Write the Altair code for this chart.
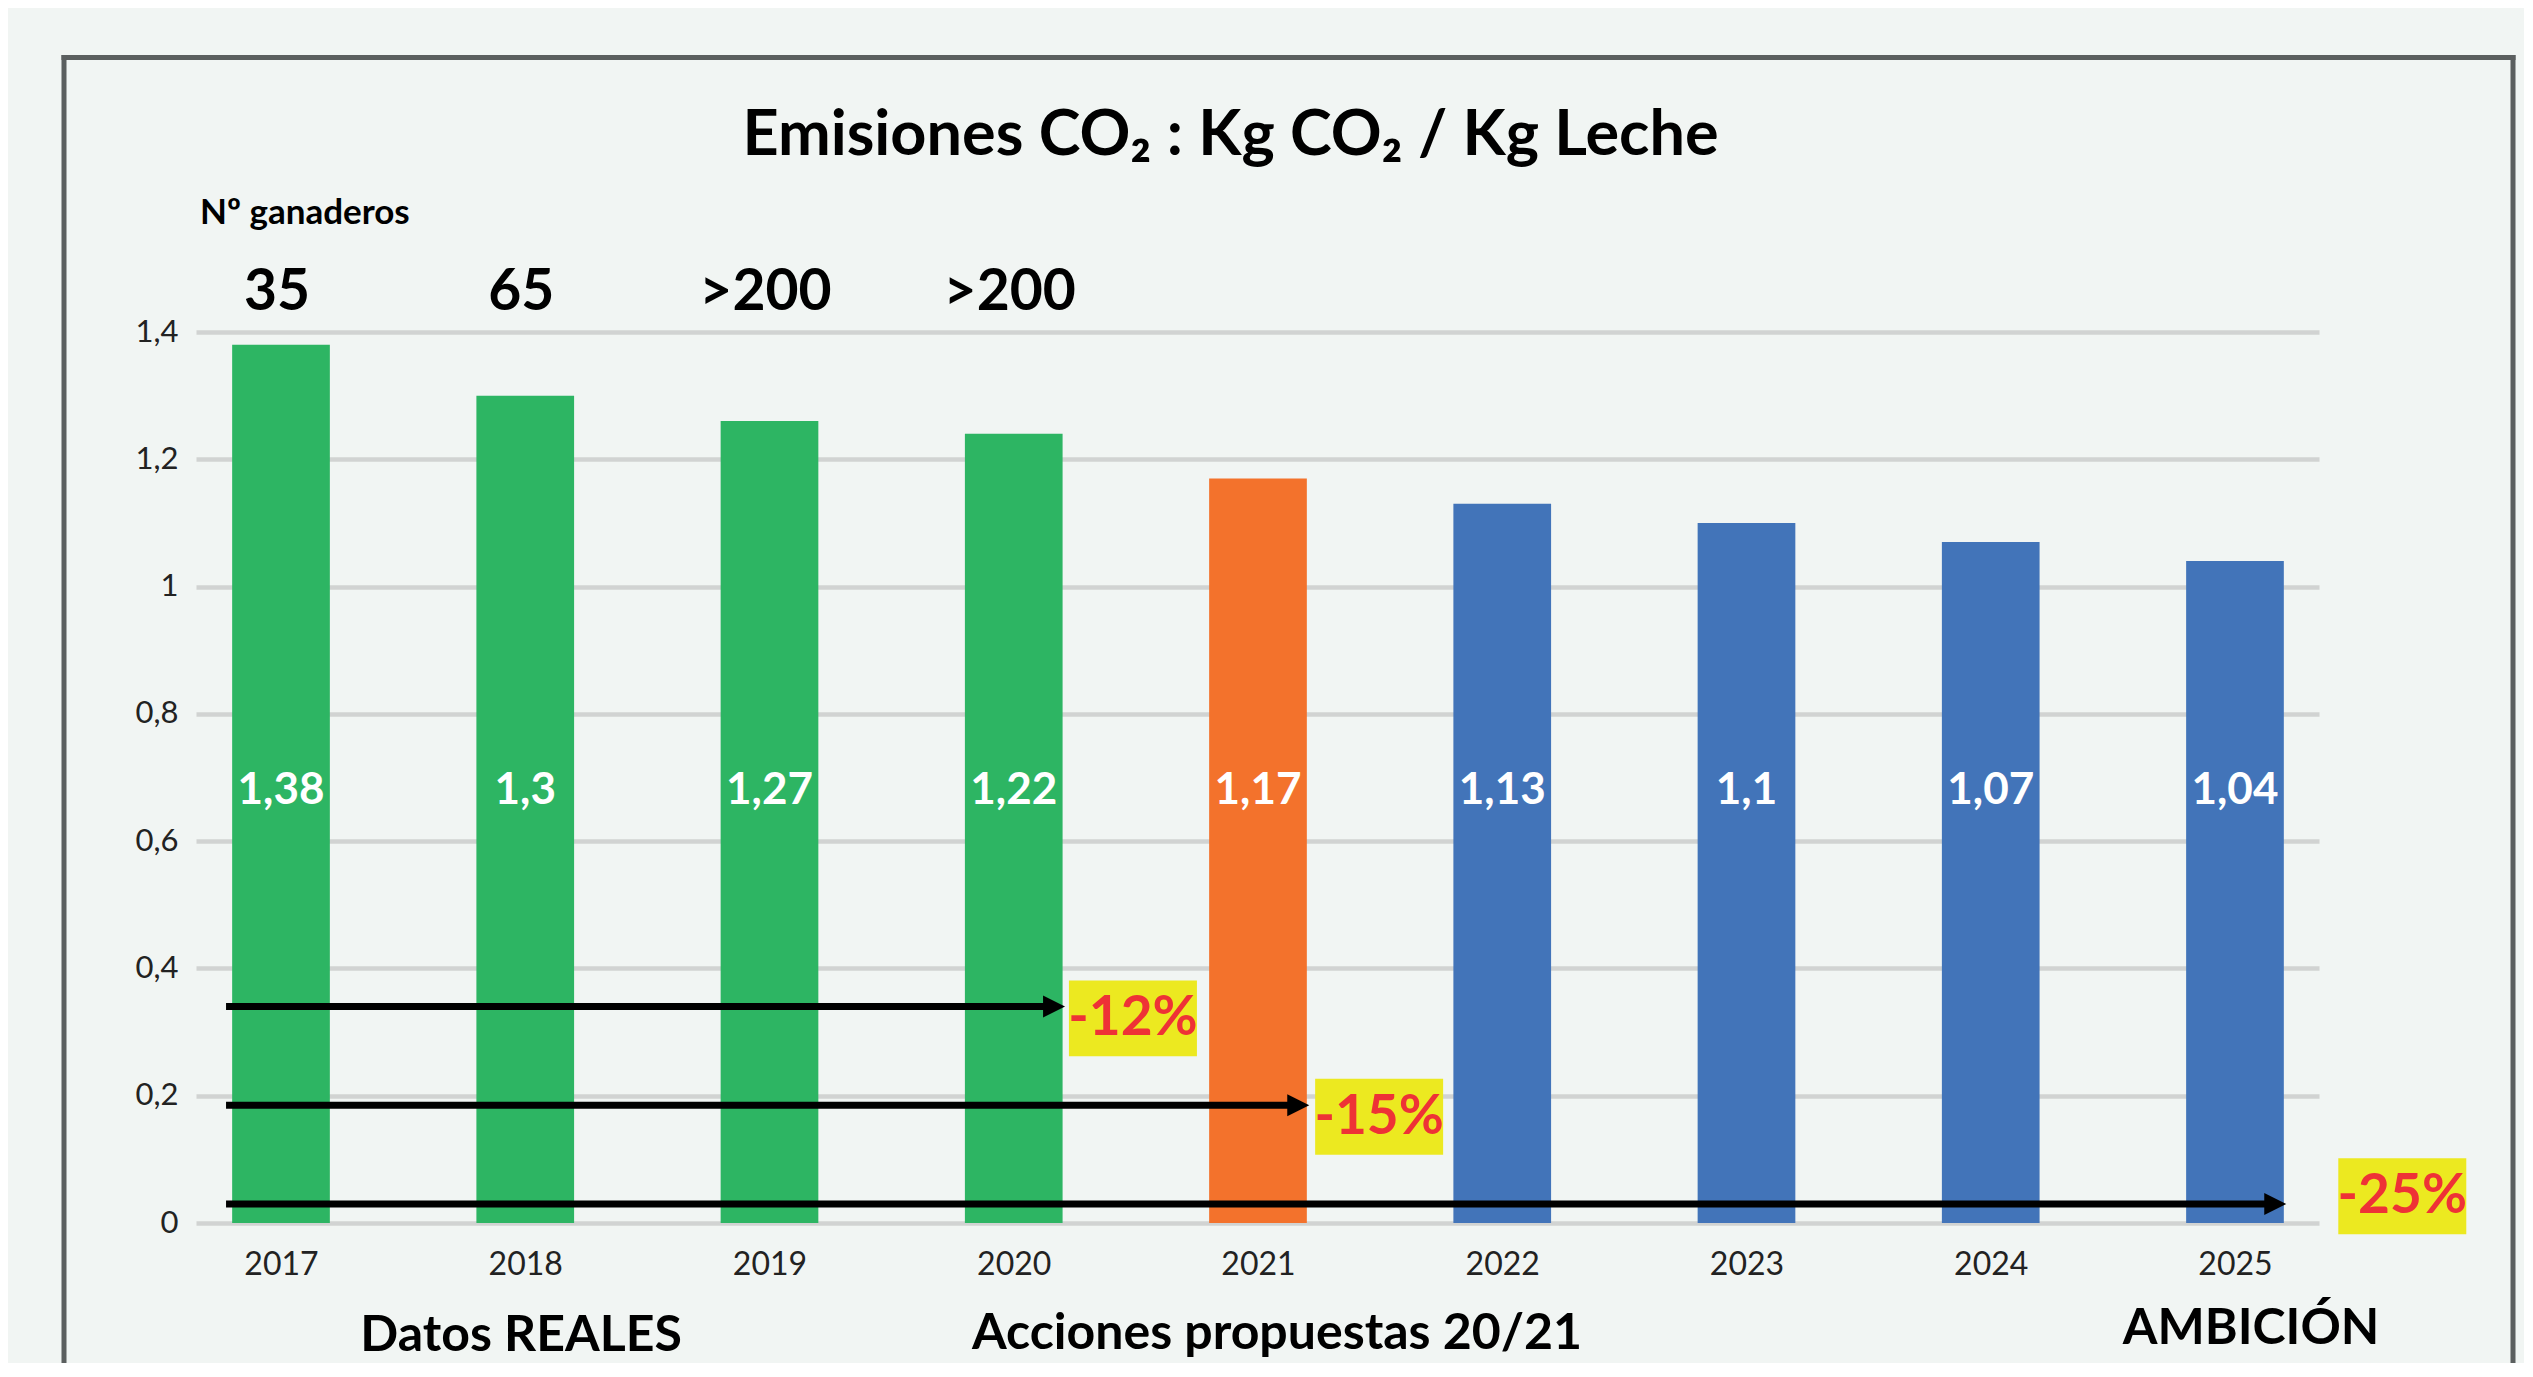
import json
import altair as alt
import pandas as pd

# ---------------- data ----------------
YEARS = ["2017", "2018", "2019", "2020", "2021", "2022", "2023", "2024", "2025"]
EMISSIONS = [1.38, 1.30, 1.26, 1.24, 1.17, 1.13, 1.10, 1.07, 1.04]
VALUE_LABELS = ["1,38", "1,3", "1,27", "1,22", "1,17", "1,13", "1,1", "1,07", "1,04"]
PHASES = ["real", "real", "real", "real", "propuesta",
          "ambicion", "ambicion", "ambicion", "ambicion"]

GANADEROS_YEARS = ["2017", "2018", "2019", "2020"]
GANADEROS = ["35", "65", ">200", ">200"]

REDUCTION_LABELS = ["-12%", "-15%", "-25%"]
REDUCTION_FROM = "2017"
REDUCTION_TO = ["2020", "2021", "2025"]

GROUP_LABELS = ["Datos REALES", "Acciones propuestas 20/21", "AMBICIÓN"]

TITLE = "Emisiones CO₂ : Kg CO₂ / Kg Leche"
HEADER = "Nº ganaderos"
Y_TICKS = [0, 0.2, 0.4, 0.6, 0.8, 1.0, 1.2, 1.4]

# ---------------- layout / style ----------------
W, H = 2123, 891
PAD = {"left": 188, "top": 324, "right": 205, "bottom": 140}
X_DOMAIN = [-0.348, 8.344]
Y_DOMAIN = [0, 1.4]
BAR_HALF = 0.2
VALUE_LABEL_Y = 0.659
COUNT_LABEL_Y = 1.435
HEADER_POS = (-0.332, 1.570)
ARROW_Y = [0.34, 0.185, 0.03]
ARROW_START_PAD = 0.225
ARROW_END_PAD = 0.21
BOX_X = [3.488, 4.496, 8.685]
BOX_Y = [0.3216, 0.167, 0.042]
BOX_HW, BOX_HH = 0.262, 0.0596
GROUP_X = [0.983, 4.078, 8.066]
GROUP_Y = [-0.2008, -0.1976, -0.190]

GREEN, ORANGE, BLUE = "#2db563", "#f3722c", "#4274b9"
YELLOW, RED = "#ece920", "#ee3236"
BG, GRID, FRAME = "#f1f5f3", "#d1d3d2", "#5b5f5f"
FONT = "Lato"

idx = {y: i for i, y in enumerate(YEARS)}

bars = pd.DataFrame({
    "year": YEARS,
    "value": EMISSIONS,
    "label": VALUE_LABELS,
    "phase": PHASES,
})
bars["i"] = [idx[y] for y in YEARS]
bars["x0"] = bars["i"] - BAR_HALF
bars["x1"] = bars["i"] + BAR_HALF
bars["base"] = 0.0
bars["label_y"] = VALUE_LABEL_Y

counts = pd.DataFrame({"year": GANADEROS_YEARS, "label": GANADEROS})
counts["i"] = [idx[y] for y in GANADEROS_YEARS]
counts["y"] = COUNT_LABEL_Y

header = pd.DataFrame({"label": [HEADER], "x": [HEADER_POS[0]], "y": [HEADER_POS[1]]})

arrows = pd.DataFrame({"label": REDUCTION_LABELS, "to": REDUCTION_TO, "y": ARROW_Y})
arrows["x0"] = idx[REDUCTION_FROM] - ARROW_START_PAD
arrows["x1"] = [idx[t] + ARROW_END_PAD for t in REDUCTION_TO]
arrows["bx"] = BOX_X
arrows["by"] = BOX_Y
arrows["bx0"] = arrows["bx"] - BOX_HW
arrows["bx1"] = arrows["bx"] + BOX_HW
arrows["by0"] = arrows["by"] - BOX_HH
arrows["by1"] = arrows["by"] + BOX_HH

groups = pd.DataFrame({"label": GROUP_LABELS, "x": GROUP_X, "y": GROUP_Y})

# ---------------- scales / axes ----------------
X_SCALE = alt.Scale(domain=X_DOMAIN, nice=False, zero=False)
Y_SCALE = alt.Scale(domain=Y_DOMAIN, nice=False, zero=False)
X_AXIS = alt.Axis(values=list(range(len(YEARS))),
                  labelExpr=json.dumps(YEARS) + "[datum.value]",
                  labelFont=FONT, labelFontSize=32, labelColor="#222222",
                  labelPadding=26, labelFlush=False, labelOverlap=False,
                  domain=False, ticks=False, tickSize=0, grid=False, title=None)
Y_AXIS = alt.Axis(values=Y_TICKS,
                  labelExpr="replace(format(datum.value, '~g'), '.', ',')",
                  labelFont=FONT, labelFontSize=31, labelColor="#222222",
                  labelPadding=18, domain=False, ticks=False, tickSize=0,
                  grid=True, gridColor=GRID, gridWidth=4.5, title=None)


def X(field):
    return alt.X(f"{field}:Q", scale=X_SCALE, axis=X_AXIS, title=None)


def X2(field):
    return alt.X2(f"{field}:Q")


def Y(field):
    return alt.Y(f"{field}:Q", scale=Y_SCALE, axis=Y_AXIS, title=None)


def Y2(field):
    return alt.Y2(f"{field}:Q")


bar_layer = alt.Chart(bars).mark_rect().encode(
    x=X("x0"), x2=X2("x1"), y=Y("base"), y2=Y2("value"),
    color=alt.Color("phase:N",
                    scale=alt.Scale(domain=["real", "propuesta", "ambicion"],
                                    range=[GREEN, ORANGE, BLUE]),
                    legend=None),
)

value_text = alt.Chart(bars).mark_text(
    font=FONT, fontSize=44, fontWeight="bold", color="white",
    align="center", baseline="alphabetic",
).encode(x=X("i"), y=Y("label_y"), text="label:N")

count_text = alt.Chart(counts).mark_text(
    font=FONT, fontSize=57, fontWeight="bold", color="black",
    align="center", baseline="alphabetic", dx=-4,
).encode(x=X("i"), y=Y("y"), text="label:N")

header_text = alt.Chart(header).mark_text(
    font=FONT, fontSize=35, fontWeight="bold", color="black",
    align="left", baseline="alphabetic",
).encode(x=X("x"), y=Y("y"), text="label:N")

arrow_line = alt.Chart(arrows).mark_rule(
    color="black", strokeWidth=7, x2Offset=-14,
).encode(x=X("x0"), x2=X2("x1"), y=Y("y"))

arrow_head = alt.Chart(arrows).mark_point(
    shape="M-1,-1L1,0L-1,1Z", size=484, filled=True, color="black",
    opacity=1, strokeWidth=0, xOffset=-11,
).encode(x=X("x1"), y=Y("y"))

box = alt.Chart(arrows).mark_rect(color=YELLOW).encode(
    x=X("bx0"), x2=X2("bx1"), y=Y("by0"), y2=Y2("by1"))

box_text = alt.Chart(arrows).mark_text(
    font=FONT, fontSize=55, fontWeight="bold", color=RED,
    align="center", baseline="middle",
).encode(x=X("bx"), y=Y("by"), text="label:N")

group_text = alt.Chart(groups).mark_text(
    font=FONT, fontSize=50, fontWeight="bold", color="black",
    align="center", baseline="alphabetic",
).encode(x=X("x"), y=Y("y"), text="label:N")

frame_df = pd.DataFrame({"k": [0]})
frame_top = alt.Chart(frame_df).mark_rule(color=FRAME, strokeWidth=5).encode(
    x=alt.value(-134.5), x2=alt.value(2319.5), y=alt.value(-274.5))
frame_left = alt.Chart(frame_df).mark_rule(color=FRAME, strokeWidth=5).encode(
    x=alt.value(-132), y=alt.value(-277), y2=alt.value(1045))
frame_right = alt.Chart(frame_df).mark_rule(color=FRAME, strokeWidth=5).encode(
    x=alt.value(2317), y=alt.value(-277), y2=alt.value(1045))

chart = alt.layer(
    bar_layer, arrow_line, arrow_head, box, value_text, count_text,
    header_text, box_text, group_text, frame_top, frame_left, frame_right,
).properties(
    width=W, height=H,
    padding=PAD,
    autosize=alt.AutoSizeParams(type="none"),
    title=alt.TitleParams(text=TITLE, font=FONT, fontSize=63, fontWeight="bold",
                          color="black", anchor="middle", frame="group",
                          dx=-27, offset=-115),
).configure(
    background=BG,
).configure_view(
    stroke=None,
)

chart.save("out.html", embed_options={"renderer": "svg", "actions": False})
